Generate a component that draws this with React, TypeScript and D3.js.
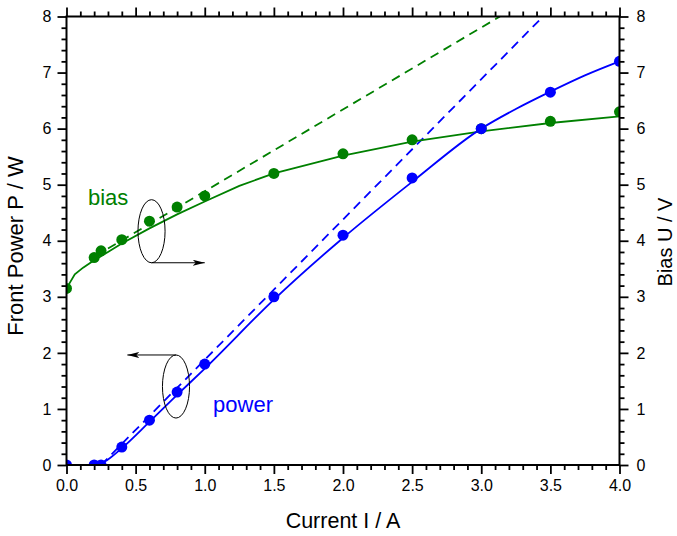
import React, { useEffect, useRef } from "react";
import * as d3 from "d3";

const W = 677;
const H = 536;
const MARGIN = { top: 16.5, right: 57.5, bottom: 71, left: 66.5 };
const FONT = "'Liberation Sans', Arial, sans-serif";

// measured points
const currentPts = [0, 0.2, 0.25, 0.4, 0.6, 0.8, 1.0, 1.5, 2.0, 2.5, 3.0, 3.5, 4.0];
const powerPts = [0, 0, 0, 0.32, 0.8, 1.3, 1.8, 3.0, 4.1, 5.12, 6.0, 6.65, 7.2];
const biasPts = [3.15, 3.7, 3.82, 4.02, 4.35, 4.6, 4.8, 5.2, 5.55, 5.8, 6.0, 6.13, 6.3];

// fitted curves
const powerFitI = [0, 0.22, 0.3, 0.4, 0.6, 0.8, 1.0, 1.5, 2.0, 2.5, 3.0, 3.25, 3.5, 3.75, 4.0];
const powerFitP = [0, 0, 0.1, 0.3, 0.77, 1.25, 1.72, 2.95, 4.05, 5.05, 6.0, 6.35, 6.66, 6.95, 7.2];
const biasFitI = [0, 0.06, 0.12, 0.2, 0.3, 0.4, 0.6, 0.8, 1.0, 1.25, 1.5, 2.0, 2.5, 3.0, 3.5, 4.0];
const biasFitU = [3.15, 3.4, 3.52, 3.65, 3.8, 3.95, 4.22, 4.47, 4.7, 4.98, 5.2, 5.52, 5.77, 5.95, 6.1, 6.22];

// linear extrapolations (dashed)
const powerLinI = [0.25, 3.447];
const powerLinP = [0, 8];
const biasLinI = [0.3, 3.135];
const biasLinU = [3.86, 8];

const xTicks = [0, 0.5, 1.0, 1.5, 2.0, 2.5, 3.0, 3.5, 4.0];
const yTicks = [0, 1, 2, 3, 4, 5, 6, 7, 8];

const BLUE = "#0000ff";
const GREEN = "#008000";

export default function App() {
  const svgRef = useRef<SVGSVGElement>(null);

  useEffect(() => {
    const svg = d3.select(svgRef.current);
    svg.selectAll("*").remove();

    const cw = W - MARGIN.left - MARGIN.right;
    const ch = H - MARGIN.top - MARGIN.bottom;

    const x = d3.scaleLinear().domain([0, 4]).range([0, cw]);
    const y = d3.scaleLinear().domain([0, 8]).range([ch, 0]);

    const defs = svg.append("defs");
    defs.append("clipPath").attr("id", "plot-clip")
      .append("rect").attr("width", cw).attr("height", ch);
    defs.append("marker")
      .attr("id", "arrowhead")
      .attr("viewBox", "0 0 12 6")
      .attr("refX", 12).attr("refY", 3)
      .attr("markerWidth", 12).attr("markerHeight", 6)
      .attr("markerUnits", "userSpaceOnUse")
      .attr("orient", "auto")
      .append("path").attr("d", "M0,0 L12,3 L0,6 L3,3 Z").attr("fill", "#000");

    const g = svg.append("g").attr("transform", `translate(${MARGIN.left},${MARGIN.top})`);
    const plot = g.append("g").attr("clip-path", "url(#plot-clip)");

    const line = d3.line<[number, number]>().x((d) => x(d[0])).y((d) => y(d[1]));

    // dashed extrapolations
    plot.append("path")
      .attr("d", line(d3.zip(biasLinI, biasLinU) as [number, number][]))
      .attr("fill", "none").attr("stroke", GREEN).attr("stroke-width", 1.8)
      .attr("stroke-dasharray", "9,6");
    plot.append("path")
      .attr("d", line(d3.zip(powerLinI, powerLinP) as [number, number][]))
      .attr("fill", "none").attr("stroke", BLUE).attr("stroke-width", 1.8)
      .attr("stroke-dasharray", "9,6");

    // fits
    plot.append("path")
      .attr("d", line(d3.zip(biasFitI, biasFitU) as [number, number][]))
      .attr("fill", "none").attr("stroke", GREEN).attr("stroke-width", 1.8);
    plot.append("path")
      .attr("d", line.curve(d3.curveMonotoneX)(d3.zip(powerFitI, powerFitP) as [number, number][]))
      .attr("fill", "none").attr("stroke", BLUE).attr("stroke-width", 1.8);
    line.curve(d3.curveLinear);

    // points
    plot.selectAll(".bp").data(currentPts).enter().append("circle")
      .attr("cx", (d) => x(d)).attr("cy", (_, i) => y(biasPts[i]))
      .attr("r", 5.5).attr("fill", GREEN);
    plot.selectAll(".pp").data(currentPts).enter().append("circle")
      .attr("cx", (d) => x(d)).attr("cy", (_, i) => y(powerPts[i]))
      .attr("r", 5.5).attr("fill", BLUE);

    // annotations: ellipses + arrows
    const biasEll = { i: 0.615, v: 4.17 };
    const powEll = { i: 0.792, v: 1.4 };
    const rx = x(0.098) - x(0);
    const ry = y(0) - y(0.5625);
    [biasEll, powEll].forEach((e) => {
      g.append("ellipse")
        .attr("cx", x(e.i)).attr("cy", y(e.v))
        .attr("rx", rx).attr("ry", ry)
        .attr("fill", "none").attr("stroke", "#000").attr("stroke-width", 1);
    });
    g.append("line")
      .attr("x1", x(biasEll.i)).attr("y1", y(biasEll.v) + ry)
      .attr("x2", x(1.0)).attr("y2", y(biasEll.v) + ry)
      .attr("stroke", "#000").attr("stroke-width", 1)
      .attr("marker-end", "url(#arrowhead)");
    g.append("line")
      .attr("x1", x(powEll.i)).attr("y1", y(powEll.v) - ry)
      .attr("x2", x(0.44)).attr("y2", y(powEll.v) - ry)
      .attr("stroke", "#000").attr("stroke-width", 1)
      .attr("marker-end", "url(#arrowhead)");

    g.append("text").attr("x", x(0.155)).attr("y", y(4.64))
      .attr("fill", GREEN).style("font-family", FONT).style("font-size", "22px").text("bias");
    g.append("text").attr("x", x(1.06)).attr("y", y(0.95))
      .attr("fill", BLUE).style("font-family", FONT).style("font-size", "22px").text("power");

    // axes
    const minorX = d3.range(0, 4.0001, 0.1).filter((v) => Math.abs(v * 2 - Math.round(v * 2)) > 1e-6);
    const minorY = d3.range(0, 8.0001, 0.2).filter((v) => Math.abs(v - Math.round(v)) > 1e-6);

    const styleAxis = (sel: any) => {
      sel.select(".domain").remove();
      sel.selectAll("line").attr("stroke", "#000").attr("stroke-width", 1.8);
      sel.selectAll("text").style("font-family", FONT).style("font-size", "16px").attr("fill", "#000");
    };

    // minor ticks
    g.append("g").attr("transform", `translate(0,${ch})`)
      .call(d3.axisBottom(x).tickValues(minorX).tickSize(5).tickFormat(() => ""))
      .call(styleAxis);
    g.append("g")
      .call(d3.axisTop(x).tickValues(minorX).tickSize(5).tickFormat(() => ""))
      .call(styleAxis);
    g.append("g")
      .call(d3.axisLeft(y).tickValues(minorY).tickSize(5).tickFormat(() => ""))
      .call(styleAxis);
    g.append("g").attr("transform", `translate(${cw},0)`)
      .call(d3.axisRight(y).tickValues(minorY).tickSize(5).tickFormat(() => ""))
      .call(styleAxis);

    // major ticks
    g.append("g").attr("transform", `translate(0,${ch})`)
      .call(d3.axisBottom(x).tickValues(xTicks).tickSize(9).tickPadding(6).tickFormat(d3.format(".1f")))
      .call(styleAxis);
    g.append("g")
      .call(d3.axisTop(x).tickValues(xTicks).tickSize(9).tickFormat(() => ""))
      .call(styleAxis);
    g.append("g")
      .call(d3.axisLeft(y).tickValues(yTicks).tickSize(9).tickPadding(6).tickFormat(d3.format("d")))
      .call(styleAxis);
    g.append("g").attr("transform", `translate(${cw},0)`)
      .call(d3.axisRight(y).tickValues(yTicks).tickSize(9).tickPadding(8).tickFormat(d3.format("d")))
      .call(styleAxis);

    // frame
    g.append("rect").attr("width", cw).attr("height", ch)
      .attr("fill", "none").attr("stroke", "#000").attr("stroke-width", 2);

    // titles
    g.append("text")
      .attr("x", cw / 2).attr("y", H - MARGIN.top - 8)
      .attr("text-anchor", "middle")
      .style("font-family", FONT).style("font-size", "21.5px")
      .text("Current I / A");
    svg.append("text")
      .attr("transform", `translate(23,${246}) rotate(-90)`)
      .attr("text-anchor", "middle")
      .style("font-family", FONT).style("font-size", "22px")
      .text("Front Power P / W");
    svg.append("text")
      .attr("transform", `translate(672,${242}) rotate(-90)`)
      .attr("text-anchor", "middle")
      .style("font-family", FONT).style("font-size", "20px")
      .text("Bias U / V");
  }, []);

  return (
    <div style={{ position: "fixed", left: 0, top: 0, width: W, height: H, background: "#fff" }}>
      <svg ref={svgRef} width={W} height={H} style={{ display: "block" }} />
    </div>
  );
}
